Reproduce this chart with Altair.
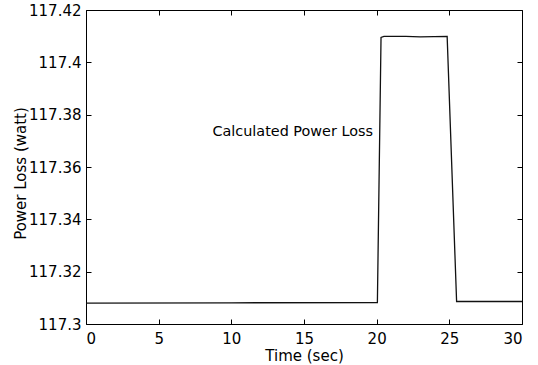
import altair as alt
import pandas as pd

# Data
t_vals = [0.0, 10.0, 20.05, 20.3, 20.5, 22.0, 23.0, 24.85, 25.5, 27.0, 30.0]
p_vals = [117.3080, 117.3081, 117.3082, 117.4095, 117.4099, 117.4099, 117.4097,
          117.4099, 117.3086, 117.3086, 117.3086]

x_ticks = [0, 5, 10, 15, 20, 25, 30]
y_ticks = [117.30, 117.32, 117.34, 117.36, 117.38, 117.40, 117.42]

label_text = ["Calculated Power Loss"]
label_x = [19.75]
label_y = [117.3735]

W, H = 436, 314
FONT = "DejaVu Sans"

df = pd.DataFrame({"t": t_vals, "p": p_vals})
lab = pd.DataFrame({"x": label_x, "y": label_y, "text": label_text})

xs = alt.Scale(domain=[0, 30], nice=False, zero=False)
ys = alt.Scale(domain=[117.3, 117.42], nice=False, zero=False)

common = dict(labelFont=FONT, labelFontSize=15, labelColor="black",
              titleFont=FONT, titleFontSize=15, titleColor="black",
              titleFontWeight="normal", grid=False, domain=False)

main = alt.Chart(df).mark_line(color="#111111", strokeWidth=1.3).encode(
    x=alt.X("t:Q", scale=xs, axis=alt.Axis(
        orient="bottom", values=x_ticks, format="d", ticks=False, tickSize=0,
        labelPadding=7, title="Time (sec)",
        titleY=24, titleBaseline="top", **common)),
    y=alt.Y("p:Q", scale=ys, axis=alt.Axis(
        orient="left", values=y_ticks, format="~f", ticks=False, tickSize=0,
        labelPadding=5, title="Power Loss (watt)",
        titleX=-58, titleY=163, titleAngle=270, titleBaseline="bottom",
        titleAlign="center", **common)),
)

tick_style = dict(labels=False, ticks=True, tickSize=5, tickColor="black",
                  tickWidth=1, domain=False, grid=False, title=None)

# inward ticks on bottom and left
ticks_a = alt.Chart(df).mark_line(opacity=0).encode(
    x=alt.X("t:Q", scale=xs, axis=alt.Axis(orient="top", offset=-H,
                                           values=x_ticks, **tick_style)),
    y=alt.Y("p:Q", scale=ys, axis=alt.Axis(orient="right", offset=-W,
                                           values=y_ticks, **tick_style)),
)

# inward ticks on top and right
ticks_b = alt.Chart(df).mark_line(opacity=0).encode(
    x=alt.X("t:Q", scale=xs, axis=alt.Axis(orient="bottom", offset=-H,
                                           values=x_ticks, **tick_style)),
    y=alt.Y("p:Q", scale=ys, axis=alt.Axis(orient="left", offset=-W,
                                           values=y_ticks, **tick_style)),
)

text = alt.Chart(lab).mark_text(
    align="right", baseline="middle", font=FONT, fontSize=14.4, color="black"
).encode(
    x=alt.X("x:Q", scale=xs, axis=None),
    y=alt.Y("y:Q", scale=ys, axis=None),
    text="text:N",
)

chart = alt.layer(main, ticks_a, ticks_b, text).resolve_axis(
    x="independent", y="independent"
).properties(
    width=W, height=H,
    background="white",
    autosize=alt.AutoSizeParams(type="none"),
    padding={"left": 86, "top": 10, "right": 538 - 86 - W, "bottom": 365 - 10 - H},
).configure_view(
    stroke="black", strokeWidth=1
)

chart.save("out.html", embed_options={"renderer": "svg", "actions": False})
